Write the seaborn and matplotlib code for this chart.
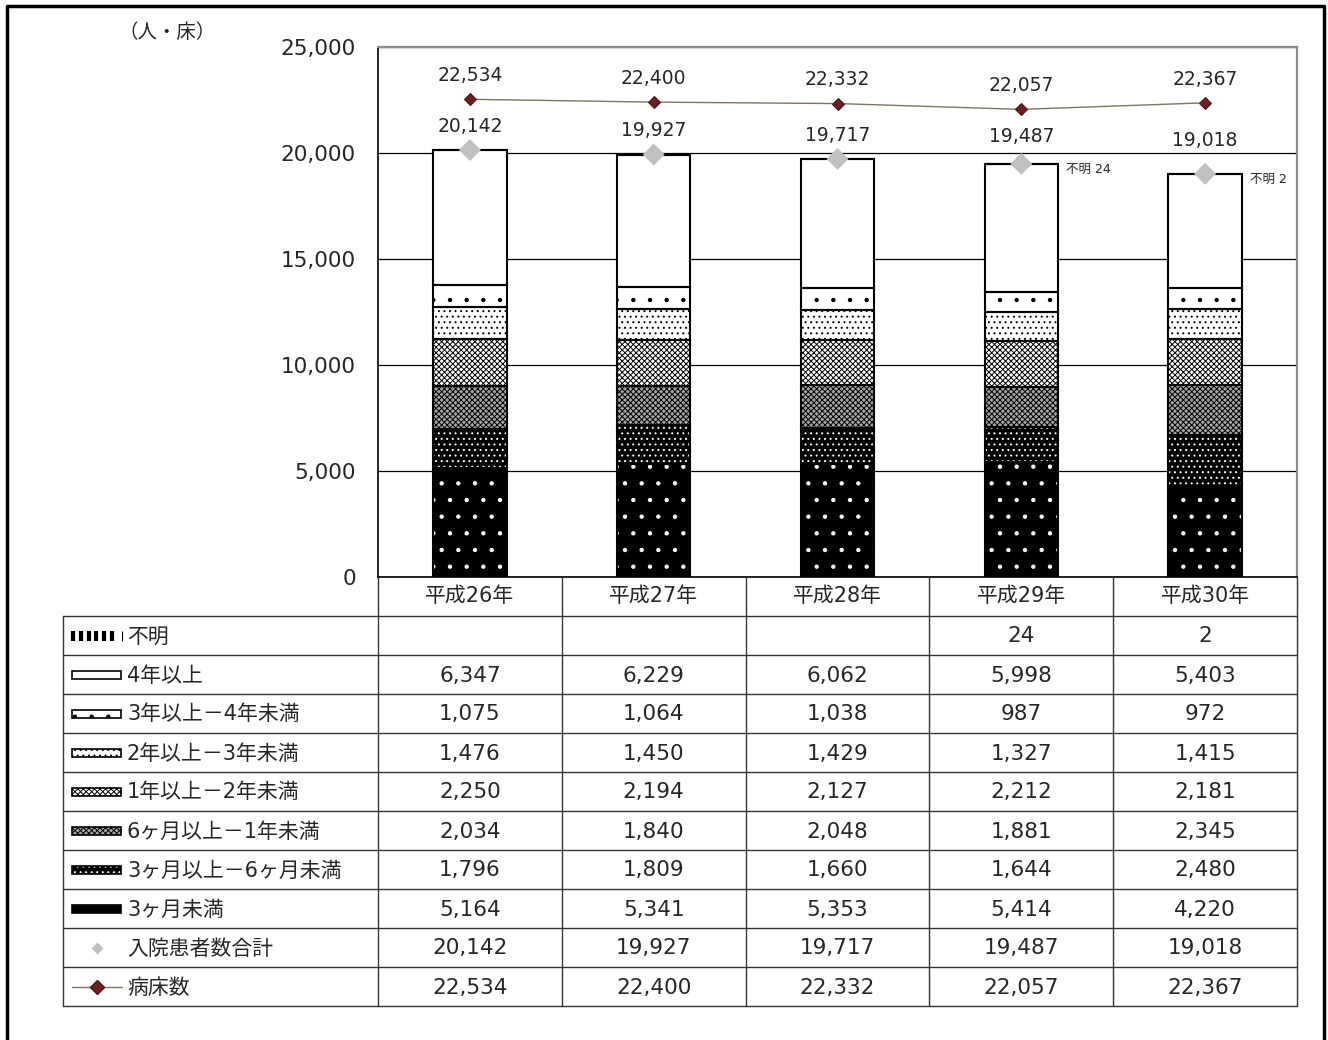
import numpy as np
import pandas as pd
import seaborn as sns
import matplotlib.pyplot as plt
from matplotlib.patches import Rectangle

years = ['平成26年', '平成27年', '平成28年', '平成29年', '平成30年']
under_3m = [5164, 5341, 5353, 5414, 4220]
m3_to_6m = [1796, 1809, 1660, 1644, 2480]
m6_to_1y = [2034, 1840, 2048, 1881, 2345]
y1_to_2y = [2250, 2194, 2127, 2212, 2181]
y2_to_3y = [1476, 1450, 1429, 1327, 1415]
y3_to_4y = [1075, 1064, 1038, 987, 972]
over_4y = [6347, 6229, 6062, 5998, 5403]
unknown = [None, None, None, 24, 2]
patients_total = [20142, 19927, 19717, 19487, 19018]
beds = [22534, 22400, 22332, 22057, 22367]

# stacking order, bottom to top
layers = [
    ('3ヶ月未満', under_3m),
    ('3ヶ月以上－6ヶ月未満', m3_to_6m),
    ('6ヶ月以上－1年未満', m6_to_1y),
    ('1年以上－2年未満', y1_to_2y),
    ('2年以上－3年未満', y2_to_3y),
    ('3年以上－4年未満', y3_to_4y),
    ('4年以上', over_4y),
    ('不明', unknown),
]
# facecolor, hatch, hatch colour
styles = {
    '3ヶ月未満': ('black', '.', 'white'),
    '3ヶ月以上－6ヶ月未満': ('black', '...', 'white'),
    '6ヶ月以上－1年未満': ('#a6a6a6', 'xxxxxx', 'black'),
    '1年以上－2年未満': ('white', 'xxxxxx', 'black'),
    '2年以上－3年未満': ('white', '...', 'black'),
    '3年以上－4年未満': ('white', '.', 'black'),
    '4年以上': ('white', '', 'black'),
    '不明': ('white', '||', 'black'),
}

sns.set_style('white')
plt.rcParams['font.family'] = ['DejaVu Sans', 'Noto Sans CJK JP']
plt.rcParams['hatch.linewidth'] = 0.7

W, H = 1328, 1040
fig = plt.figure(figsize=(W / 100, H / 100), dpi=100)
x0, x1, ytop, ybot = 378, 1297, 47, 577
ax = fig.add_axes([x0 / W, 1 - ybot / H, (x1 - x0) / W, (ybot - ytop) / H])

pos = np.arange(len(years))
bottom = np.zeros(len(years))
for label, vals in layers:
    v = np.array([0 if x is None else x for x in vals], dtype=float)
    face, hatch, hc = styles[label]
    df = pd.DataFrame({'year': years, 'value': v})
    sns.barplot(data=df, x='year', y='value', ax=ax, color=face, saturation=1,
                width=0.4, bottom=bottom.copy(), hatch=hatch, edgecolor=hc,
                linewidth=0, zorder=2)
    bottom += v

for p in list(ax.patches):
    ax.add_patch(Rectangle(p.get_xy(), p.get_width(), p.get_height(), fill=False,
                           edgecolor='black', linewidth=1.5, zorder=3))

sns.lineplot(x=pos, y=beds, ax=ax, color='#7d7561', linewidth=1, marker='D',
             markersize=6.5, markerfacecolor='#6e1f1f', markeredgecolor='#4a1212',
             zorder=5)
sns.scatterplot(x=pos, y=patients_total, ax=ax, marker='D', s=125,
                color='#c0c0c0', edgecolor='none', zorder=6)

for i, v in enumerate(beds):
    ax.annotate(f'{v:,}', (i, v), xytext=(0, 17), textcoords='offset points',
                ha='center', va='center', fontsize=13.5)
lift = [17, 17, 17, 20, 24]
for i, v in enumerate(patients_total):
    ax.annotate(f'{v:,}', (i, v), xytext=(0, lift[i]), textcoords='offset points',
                ha='center', va='center', fontsize=13.5)
for i, v in enumerate(unknown):
    if v is not None:
        ax.annotate(f'不明 {v}', (i + 0.2, patients_total[i]), xytext=(6, -4),
                    textcoords='offset points', ha='left', va='center', fontsize=9)

ax.set_xlim(-0.5, len(years) - 0.5)
ax.set_ylim(0, 25000)
ax.set_yticks(range(0, 25001, 5000))
ax.set_yticklabels([f'{t:,}' for t in range(0, 25001, 5000)])
ax.set_xticks([])
ax.set_xlabel('')
ax.set_ylabel('')
ax.tick_params(axis='y', length=0, pad=16, labelsize=15.5)
ax.yaxis.grid(True, color='black', linewidth=0.9)
ax.set_axisbelow(True)
for side in ['top', 'right']:
    ax.spines[side].set_color('#8c8c8c')
    ax.spines[side].set_linewidth(1.6)
for side in ['left', 'bottom']:
    ax.spines[side].set_color('black')
    ax.spines[side].set_linewidth(1.2)

# overlay in pixel coordinates for the data table and frame
tax = fig.add_axes([0, 0, 1, 1])
tax.set_xlim(0, W)
tax.set_ylim(H, 0)
tax.axis('off')

fig.text(118 / W, 1 - 33 / H, '（人・床）', fontsize=14, va='center', ha='left',
         family=['Noto Sans CJK JP', 'DejaVu Sans'])

col_w = (x1 - x0) / len(years)
col_c = [x0 + col_w * (i + 0.5) for i in range(len(years))]
row_h = 39
t_top = ybot + row_h
n_rows = len(layers) + 2
lc = '#333333'
for k in range(n_rows + 1):
    tax.plot([63, x1], [t_top + k * row_h] * 2, color=lc, lw=1)
tax.plot([63, 63], [t_top, t_top + n_rows * row_h], color=lc, lw=1)
for i in range(len(years) + 1):
    xx = x0 + col_w * i
    tax.plot([xx, xx], [ybot, t_top + n_rows * row_h], color=lc, lw=1)

for i, y in enumerate(years):
    tax.text(col_c[i], ybot + row_h / 2, y, ha='center', va='center', fontsize=15)

rows = [(lab, vals) for lab, vals in layers[::-1]]
rows += [('入院患者数合計', patients_total), ('病床数', beds)]
for r, (lab, vals) in enumerate(rows):
    cy = t_top + row_h * (r + 0.5)
    tax.text(127, cy + 1, lab, ha='left', va='center', fontsize=15)
    for i, v in enumerate(vals):
        if v is not None:
            tax.text(col_c[i], cy + 1, f'{v:,}', ha='center', va='center', fontsize=15.5)
    if lab in styles and lab != '不明':
        face, hatch, hc = styles[lab]
        tax.add_patch(Rectangle((72, cy - 4), 49, 8, facecolor=face, hatch=hatch,
                                edgecolor=hc, linewidth=0))
        tax.add_patch(Rectangle((72, cy - 4), 49, 8, fill=False, edgecolor='black',
                                linewidth=1.2))
    elif lab == '不明':
        tax.vlines(73 + np.arange(6) * 7.8, cy - 5, cy + 5, color='black', lw=3)
        tax.vlines(122, cy - 5, cy + 5, color='black', lw=0.8)
    elif lab == '入院患者数合計':
        tax.plot(97, cy, marker='D', ms=6, color='#c0c0c0', mec='none')
    else:
        tax.plot([72, 122], [cy, cy], color='#7d7561', lw=1)
        tax.plot(97, cy, marker='D', ms=7, mfc='#6e1f1f', mec='#4a1212')

# outer frame
tax.plot([7, 7, 1324, 1324], [H, 6, 6, H], color='black', lw=2.5)

fig.savefig('out.png', dpi=100)
